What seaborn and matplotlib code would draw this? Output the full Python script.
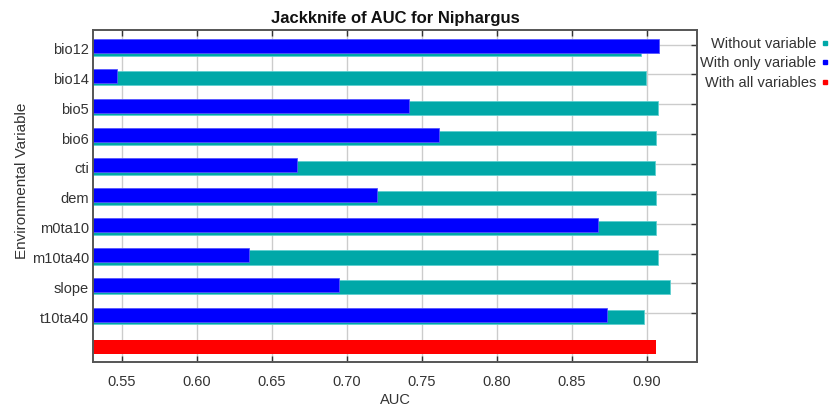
import matplotlib
matplotlib.use("Agg")
import matplotlib.pyplot as plt
from matplotlib.lines import Line2D
import numpy as np
import pandas as pd
import seaborn as sns

# Environmental variables and jackknife AUC results
variables = ["bio12", "bio14", "bio5", "bio6", "cti", "dem",
             "m0ta10", "m10ta40", "slope", "t10ta40"]
auc_without = [0.896, 0.899, 0.907, 0.906, 0.905, 0.906,
               0.906, 0.907, 0.915, 0.898]
auc_only = [0.908, 0.547, 0.741, 0.761, 0.667, 0.720,
            0.867, 0.635, 0.695, 0.873]
auc_all = 0.906

categories = variables + [""]
df_without = pd.DataFrame({"var": variables, "auc": auc_without})
df_only = pd.DataFrame({"var": variables, "auc": auc_only})
df_all = pd.DataFrame({"var": [""], "auc": [auc_all]})

TEAL = "#00a8a8"
BLUE = "#0000ff"
RED = "#ff0000"

sns.set_theme(style="white")
plt.rcParams["font.family"] = ["Liberation Sans", "DejaVu Sans"]

fig = plt.figure(figsize=(8.3, 4.07), dpi=100)
ax = fig.add_axes([93 / 830, 1 - 362 / 407, (697 - 93) / 830, (362 - 30) / 407])

bar_h = 0.47
sns.barplot(data=df_without, y="var", x="auc", order=categories, orient="h",
            color=TEAL, saturation=1, width=bar_h, edgecolor="#5fd0d0",
            linewidth=0.6, ax=ax)
n_before = len(ax.patches)
sns.barplot(data=df_only, y="var", x="auc", order=categories, orient="h",
            color=BLUE, saturation=1, width=bar_h, edgecolor="#5555ff",
            linewidth=0.6, ax=ax)
# "with only" bars sit slightly above the "without" bars
for p in ax.patches[n_before:]:
    p.set_y(p.get_y() - 0.09)
sns.barplot(data=df_all, y="var", x="auc", order=categories, orient="h",
            color=RED, saturation=1, width=bar_h, linewidth=0, ax=ax)

ax.set_xlim(0.5307, 0.9333)
ax.set_ylim(10.5, -0.62)

xt = [0.55, 0.60, 0.65, 0.70, 0.75, 0.80, 0.85, 0.90]
ax.set_xticks(xt)
ax.set_xticklabels([f"{v:.2f}" for v in xt])
ax.set_yticks(range(len(categories)))
ax.set_yticklabels(categories)

# horizontal grid rows, just above each variable's bars
ax.set_yticks([i - 0.13 for i in range(len(variables))], minor=True)
ax.grid(False)
ax.xaxis.grid(True, color="#cccccc", linewidth=1.0)
ax.yaxis.grid(True, which="minor", color="#cccccc", linewidth=1.0)
ax.set_axisbelow(True)

FS = 10.5
ax.tick_params(axis="x", which="major", direction="in", top=True, bottom=True,
               length=4, width=1, color="#333333", labelsize=FS,
               labelcolor="#333333", pad=9)
ax.tick_params(axis="y", which="major", left=False, right=False, length=0,
               labelsize=FS, labelcolor="#333333", pad=3)
ax.tick_params(axis="y", which="minor", direction="in", left=False, right=True,
               length=4, width=1, color="#333333")

for s in ax.spines.values():
    s.set_visible(True)
    s.set_color("#555555")
    s.set_linewidth(1.4)

ax.set_xlabel("AUC", fontsize=FS, color="#333333", labelpad=3)
ax.set_ylabel("Environmental Variable", fontsize=11, color="#333333")
ax.yaxis.set_label_coords(-0.106, 0.545)
ax.set_title("Jackknife of AUC for Niphargus", fontsize=12,
             fontweight="bold", color="#111111", pad=5)

handles = [Line2D([], [], marker="s", linestyle="none", markersize=3.5,
                  markerfacecolor=c, markeredgecolor=c)
           for c in (TEAL, BLUE, RED)]
fig.legend(handles, ["Without variable", "With only variable", "With all variables"],
           loc="upper right", bbox_to_anchor=(1.0, 0.913), frameon=False,
           markerfirst=False, fontsize=FS, handletextpad=0.35, handlelength=0.5,
           labelspacing=0.38, labelcolor="#333333", borderaxespad=0.0,
           borderpad=0.1)

fig.savefig("out.png", dpi=100)
